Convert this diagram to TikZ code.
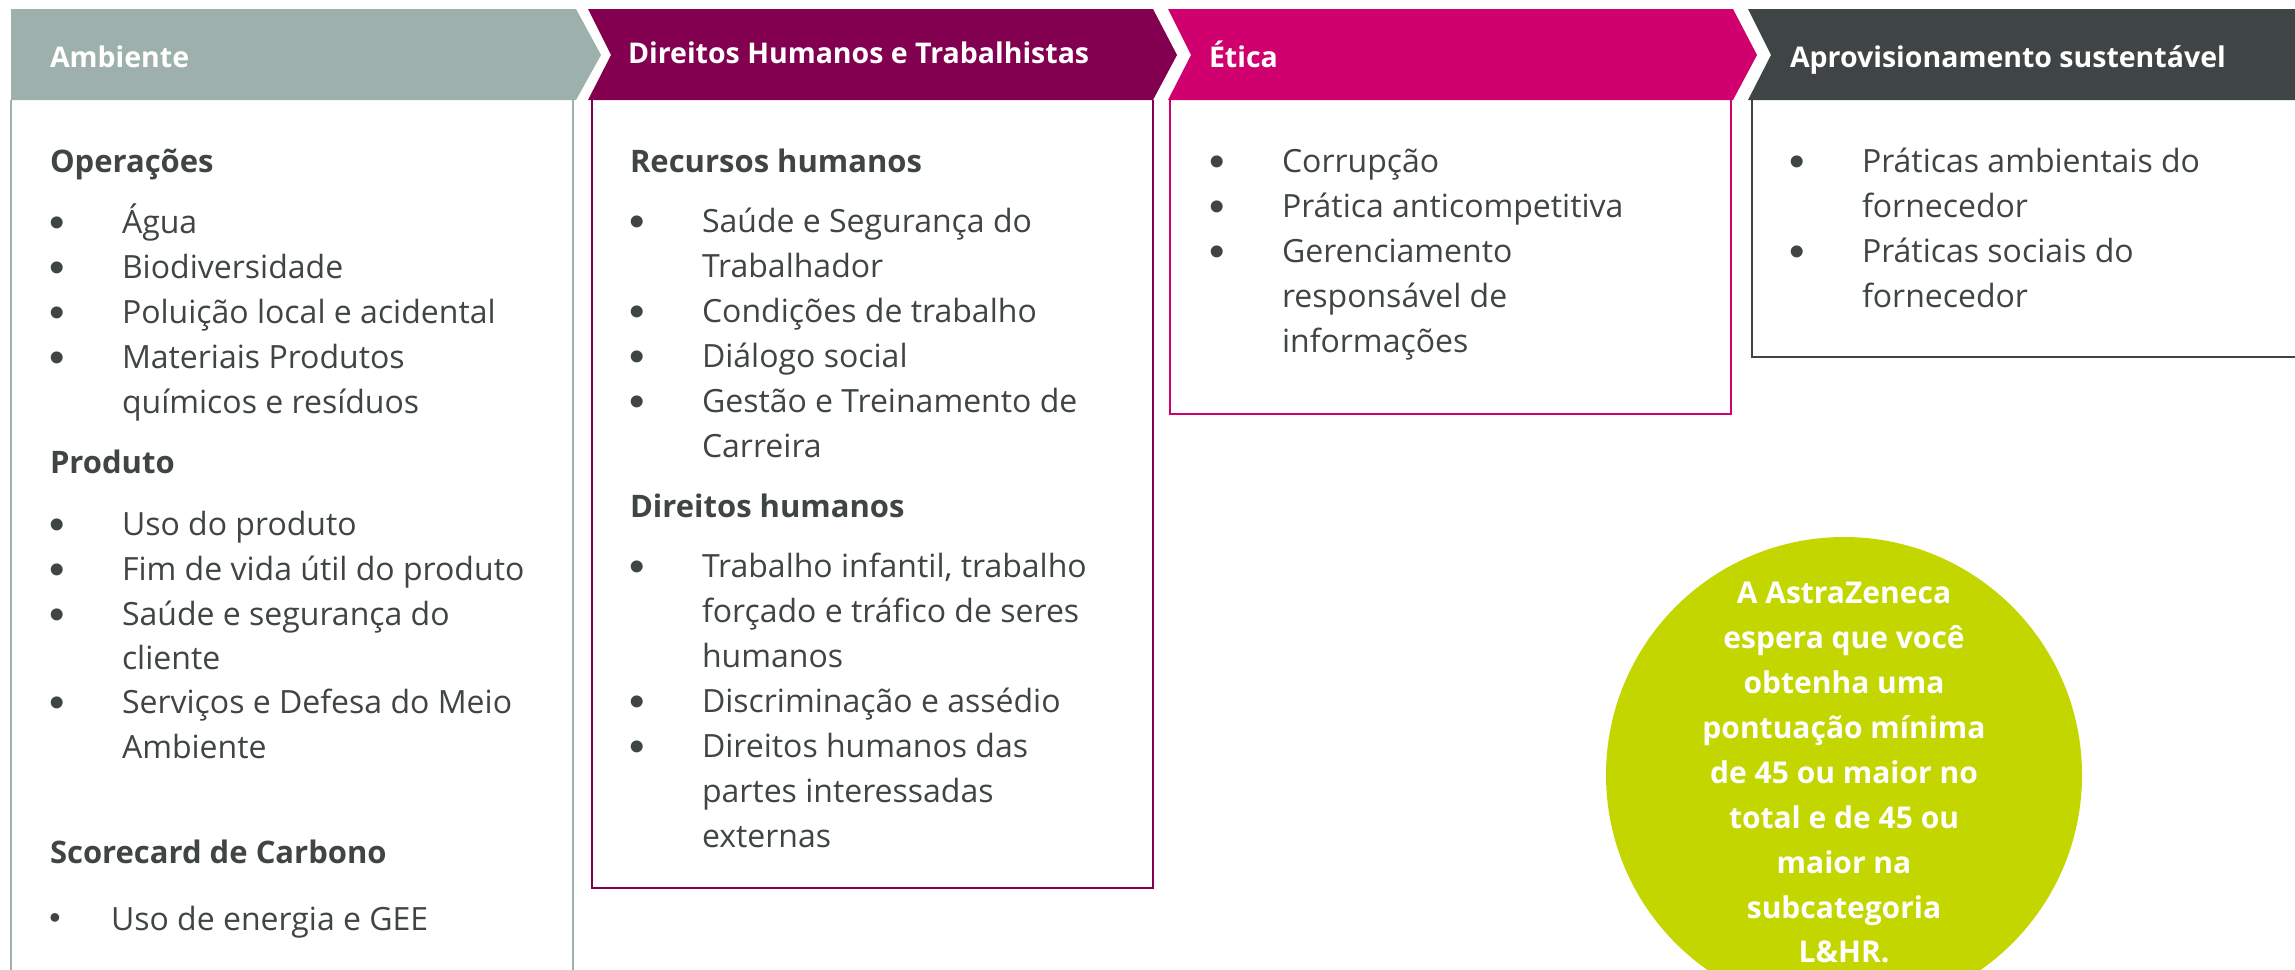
\documentclass[tikz,border=0pt]{standalone}
\usepackage{fontspec}
\setmainfont{Open Sans}
\newfontfamily\bulfont{Liberation Sans}
\definecolor{ambgray}{HTML}{9DB0AC}
\definecolor{mulberry}{HTML}{830051}
\definecolor{magenta}{HTML}{D0006F}
\definecolor{graphite}{HTML}{3F4444}
\definecolor{lime}{HTML}{C4D600}
\begin{document}
\begin{tikzpicture}[x=1bp,y=-1bp,
  txt/.style={inner sep=0pt, outer sep=0pt, text=graphite, font=\fontsize{32bp}{38bp}\selectfont, anchor=base west},
  bul/.style={inner sep=0pt, outer sep=0pt, text=graphite, font=\bulfont\fontsize{44bp}{50bp}\selectfont, anchor=base, yshift=-4bp},
  sub/.style={txt, font=\fontsize{31bp}{37bp}\selectfont\bfseries},
  head/.style={inner sep=0pt, outer sep=0pt, text=white, font=\fontsize{28.5bp}{34bp}\selectfont\bfseries, anchor=base west},
  circtxt/.style={inner sep=0pt, outer sep=0pt, text=white, font=\fontsize{30bp}{36bp}\selectfont\bfseries, anchor=base},
  boxline/.style={line width=2.5bp}
]
\path[use as bounding box, clip] (0,0) rectangle (2295,969);
\fill[white] (0,0) rectangle (2295,969);

% header chevrons
\fill[ambgray] (11,9) -- (576,9) -- (601,55) -- (576,100) -- (11,100) -- cycle;
\fill[mulberry] (588,9) -- (1153,9) -- (1177,55) -- (1153,100) -- (588,100) -- (611,55) -- cycle;
\fill[magenta] (1168,9) -- (1733,9) -- (1757,55) -- (1733,100) -- (1168,100) -- (1191,55) -- cycle;
\fill[graphite] (1748,9) -- (2300,9) -- (2300,100) -- (1748,100) -- (1771,55) -- cycle;

\node[head] (h1) at (50,67) {Ambiente};
\node[head] (h2) at (628,63) {Direitos Humanos e Trabalhistas};
\node[head] (h3) at (1209,67) {Ética};
\node[head] (h4) at (1790,67) {Aprovisionamento sustentável};

% boxes
\draw[ambgray, line width=2bp] (11,100) -- (11,980);
\draw[ambgray, line width=2bp] (573,100) -- (573,980);
\draw[mulberry, boxline] (592,100) -- (592,888) -- (1153,888) -- (1153,100);
\draw[magenta, boxline] (1170,100) -- (1170,414) -- (1731,414) -- (1731,100);
\draw[graphite, boxline] (1752,100) -- (1752,357) -- (2300,357);

% Ambiente column
\node[sub] (a0) at (50,172) {Operações};
\node[bul] (a1b) at (57,233) {•};  \node[txt] (a1) at (122,233) {Água};
\node[bul] (a2b) at (57,278) {•};  \node[txt] (a2) at (122,278) {Biodiversidade};
\node[bul] (a3b) at (57,323) {•};  \node[txt] (a3) at (122,323) {Poluição local e acidental};
\node[bul] (a4b) at (57,368) {•};  \node[txt] (a4) at (122,368) {Materiais Produtos};
\node[txt] (a4c) at (122,413) {químicos e resíduos};
\node[sub] (p0) at (50,473) {Produto};
\node[bul] (p1b) at (57,535) {•};  \node[txt] (p1) at (122,535) {Uso do produto};
\node[bul] (p2b) at (57,580) {•};  \node[txt] (p2) at (122,580) {Fim de vida útil do produto};
\node[bul] (p3b) at (57,625) {•};  \node[txt] (p3) at (122,625) {Saúde e segurança do};
\node[txt] (p3c) at (122,669) {cliente};
\node[bul] (p4b) at (57,713) {•};  \node[txt] (p4) at (122,713) {Serviços e Defesa do Meio};
\node[txt] (p4c) at (122,758) {Ambiente};
\node[sub] (s0) at (50,863) {Scorecard de Carbono};
\node[bul, font=\bulfont\fontsize{32bp}{36bp}\selectfont, yshift=4bp] (s1b) at (55,928) {•};  \node[txt] (s1) at (111,930) {Uso de energia e GEE};

% Direitos column
\node[sub] (d0) at (630,172) {Recursos humanos};
\node[bul] (d1b) at (637,232) {•};  \node[txt] (d1) at (702,232) {Saúde e Segurança do};
\node[txt] (d1c) at (702,277) {Trabalhador};
\node[bul] (d2b) at (637,322) {•};  \node[txt] (d2) at (702,322) {Condições de trabalho};
\node[bul] (d3b) at (637,367) {•};  \node[txt] (d3) at (702,367) {Diálogo social};
\node[bul] (d4b) at (637,412) {•};  \node[txt] (d4) at (702,412) {Gestão e Treinamento de};
\node[txt] (d4c) at (702,457) {Carreira};
\node[sub] (e0) at (630,517) {Direitos humanos};
\node[bul] (e1b) at (637,577) {•};  \node[txt] (e1) at (702,577) {Trabalho infantil, trabalho};
\node[txt] (e1c) at (702,622) {forçado e tráfico de seres};
\node[txt] (e1d) at (702,667) {humanos};
\node[bul] (e2b) at (637,712) {•};  \node[txt] (e2) at (702,712) {Discriminação e assédio};
\node[bul] (e3b) at (637,757) {•};  \node[txt] (e3) at (702,757) {Direitos humanos das};
\node[txt] (e3c) at (702,802) {partes interessadas};
\node[txt] (e3d) at (702,847) {externas};

% Etica column
\node[bul] (t1b) at (1217,172) {•};  \node[txt] (t1) at (1282,172) {Corrupção};
\node[bul] (t2b) at (1217,217) {•};  \node[txt] (t2) at (1282,217) {Prática anticompetitiva};
\node[bul] (t3b) at (1217,262) {•};  \node[txt] (t3) at (1282,262) {Gerenciamento};
\node[txt] (t3c) at (1282,307) {responsável de};
\node[txt] (t3d) at (1282,352) {informações};

% Aprovisionamento column
\node[bul] (v1b) at (1797,172) {•};  \node[txt] (v1) at (1862,172) {Práticas ambientais do};
\node[txt] (v1c) at (1862,217) {fornecedor};
\node[bul] (v2b) at (1797,262) {•};  \node[txt] (v2) at (1862,262) {Práticas sociais do};
\node[txt] (v2c) at (1862,307) {fornecedor};

% circle
\node[circle, fill=lime, draw=none, inner sep=0pt, minimum size=476bp] (circ) at (1844,775) {};
\node[circtxt] (c1) at (1844,603) {A AstraZeneca};
\node[circtxt] (c2) at (1844,648) {espera que você};
\node[circtxt] (c3) at (1844,693) {obtenha uma};
\node[circtxt] (c4) at (1844,738) {pontuação mínima};
\node[circtxt] (c5) at (1844,783) {de 45 ou maior no};
\node[circtxt] (c6) at (1844,828) {total e de 45 ou};
\node[circtxt] (c7) at (1844,873) {maior na};
\node[circtxt] (c8) at (1844,918) {subcategoria};
\node[circtxt] (c9) at (1844,962) {L\&HR.};
\end{tikzpicture}
\end{document}
